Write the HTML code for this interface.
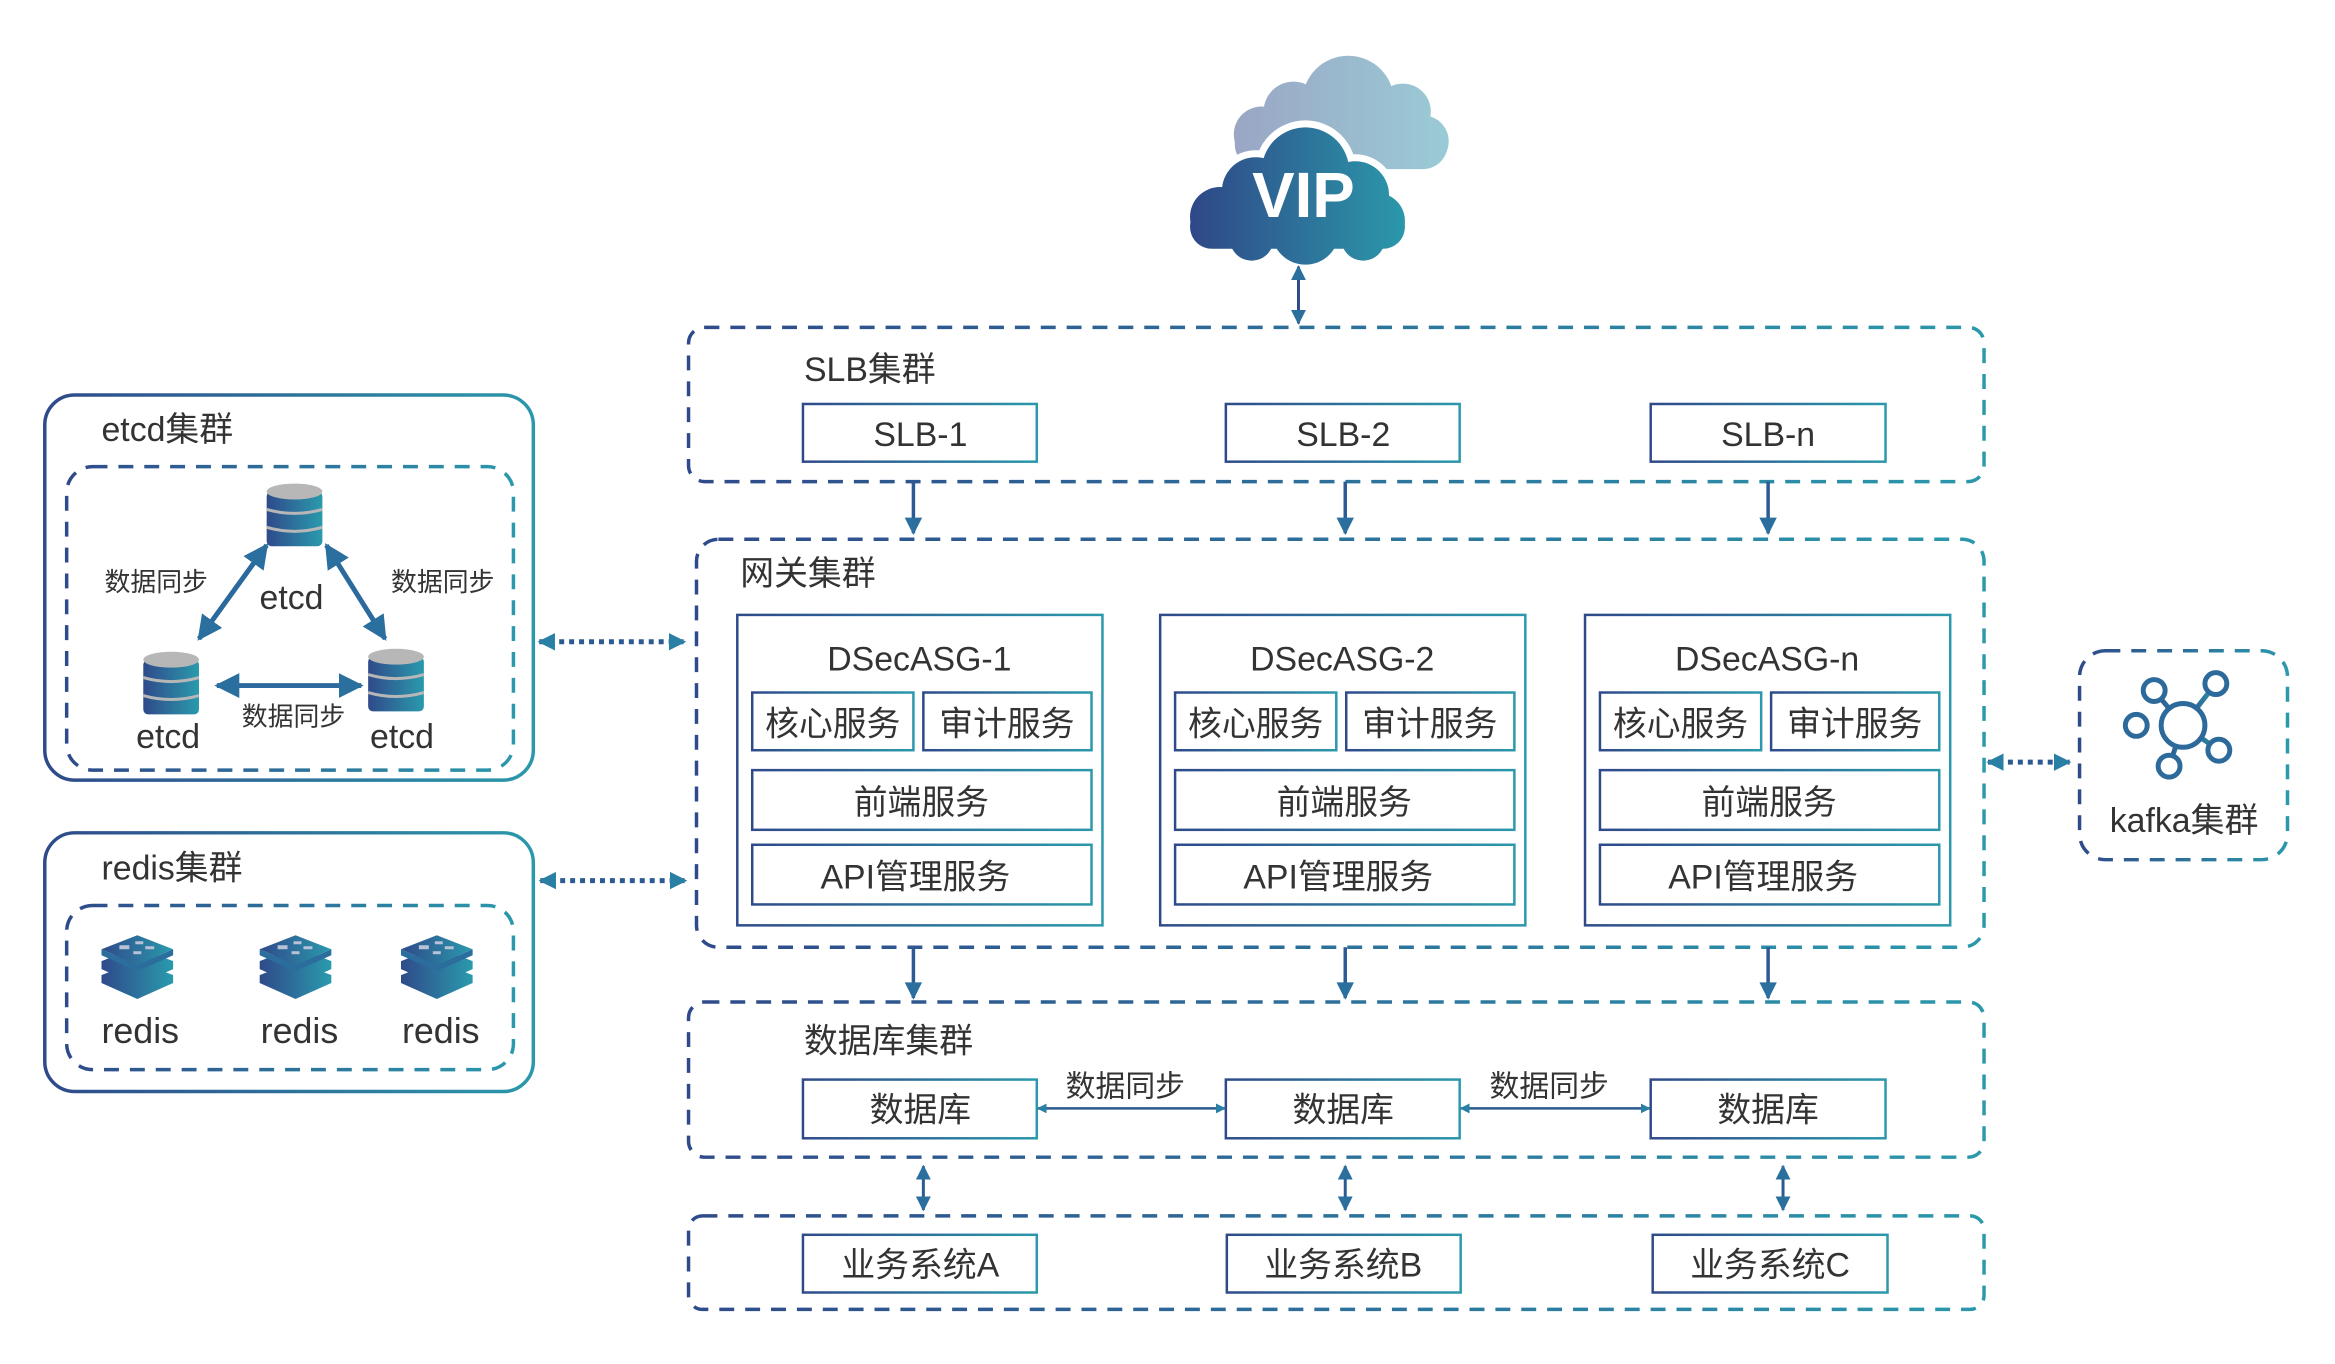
<!DOCTYPE html>
<html><head><meta charset="utf-8"><style>
html,body{margin:0;padding:0;background:#fff;}
svg{display:block;}
text{font-family:"Liberation Sans","Noto Sans CJK SC",sans-serif;fill:#333;}
</style></head><body>
<svg width="2335" height="1364" viewBox="0 0 2335 1364" xmlns="http://www.w3.org/2000/svg">
<defs>
<linearGradient id="g" x1="0" y1="0" x2="1" y2="0"><stop offset="0" stop-color="#2f4a8a"/><stop offset="1" stop-color="#2b98ab"/></linearGradient>
<linearGradient id="gc" gradientUnits="userSpaceOnUse" x1="1195" y1="0" x2="1412" y2="0"><stop offset="0" stop-color="#2f4787"/><stop offset="1" stop-color="#2b98aa"/></linearGradient>
<linearGradient id="gb" gradientUnits="userSpaceOnUse" x1="1240" y1="0" x2="1456" y2="0"><stop offset="0" stop-color="#9aa6c4"/><stop offset="1" stop-color="#9acbd6"/></linearGradient>
<linearGradient id="gdb" x1="0" y1="0" x2="1" y2="0"><stop offset="0" stop-color="#2f4a8a"/><stop offset="1" stop-color="#2a9aad"/></linearGradient>
<marker id="ah" viewBox="0 0 10 10" refX="9" refY="5" markerWidth="5" markerHeight="5" orient="auto-start-reverse" markerUnits="strokeWidth"><path d="M0,0 L10,5 L0,10 z" fill="#2a6f9e"/></marker>
<marker id="ahd" viewBox="0 0 10 10" refX="9" refY="5" markerWidth="6" markerHeight="5" orient="auto-start-reverse" markerUnits="strokeWidth"><path d="M0,0 L10,5 L0,10 z" fill="#2a6f9e"/></marker>
<marker id="ah2" viewBox="0 0 10 10" refX="9" refY="5" markerWidth="4" markerHeight="4" orient="auto-start-reverse" markerUnits="strokeWidth"><path d="M0,0 L10,5 L0,10 z" fill="#2a7fa5"/></marker>
<marker id="ahs" viewBox="0 0 10 10" refX="9" refY="5" markerWidth="3.5" markerHeight="5" orient="auto-start-reverse" markerUnits="strokeWidth"><path d="M0,0 L10,5 L0,10 z" fill="#2a7fa5"/></marker>
<g id="db">
<rect x="0" y="8" width="56" height="55" rx="5" fill="url(#gdb)"/>
<ellipse cx="28" cy="8" rx="28" ry="8" fill="#b7b7b7"/>
<path d="M0,26 Q28,34 56,26 M0,44 Q28,52 56,44" stroke="#b7b7b7" stroke-width="3" fill="none"/>
</g>
<g id="rd">
<path d="M0,38 L36,24 L72,38 L36,54 z M0,38 L0,46 L36,62 L72,46 L72,38 L36,54 z" fill="url(#gdb)"/>
<path d="M0,24 L36,10 L72,24 L36,40 z M0,24 L0,32 L36,48 L72,32 L72,24 L36,40 z" fill="url(#gdb)"/>
<path d="M0,12 L36,-2 L72,12 L36,28 z" fill="url(#gdb)"/>
<path d="M0,12 L0,18 L36,34 L72,18 L72,12 L36,28 z" fill="#2b6e9e"/>
<rect x="18" y="8" width="10" height="4" fill="#b7c2d8"/><rect x="34" y="4" width="8" height="3" fill="#b7c2d8"/><rect x="44" y="9" width="9" height="3" fill="#b7c2d8"/><rect x="32" y="14" width="8" height="3" fill="#b7c2d8"/>
</g>
</defs>
<g transform="scale(0.995)">
<g fill="url(#gb)">
<circle cx="1355" cy="102" r="46"/><circle cx="1300" cy="112" r="30"/><circle cx="1268" cy="135" r="28"/><circle cx="1410" cy="112" r="28"/><circle cx="1430" cy="142" r="26"/>
<rect x="1241" y="120" width="214" height="50" rx="25"/>
</g>
<g fill="#fff" stroke="#fff" stroke-width="14">
<circle cx="1312" cy="172" r="44"/><circle cx="1262" cy="192" r="34"/><circle cx="1226" cy="218" r="30"/><circle cx="1362" cy="196" r="34"/><circle cx="1384" cy="222" r="28"/><rect x="1196" y="205" width="216" height="45" rx="22"/><circle cx="1312" cy="232" r="34"/><circle cx="1258" cy="240" r="22"/><circle cx="1370" cy="240" r="22"/>
</g>
<g fill="url(#gc)">
<circle cx="1312" cy="172" r="44"/><circle cx="1262" cy="192" r="34"/><circle cx="1226" cy="218" r="30"/><circle cx="1362" cy="196" r="34"/><circle cx="1384" cy="222" r="28"/><rect x="1196" y="205" width="216" height="45" rx="22"/><circle cx="1312" cy="232" r="34"/><circle cx="1258" cy="240" r="22"/><circle cx="1370" cy="240" r="22"/>
</g>
<text x="1310" y="218" text-anchor="middle" font-size="64" font-weight="bold" style="fill:#fff">VIP</text>

<line x1="1305" y1="268" x2="1305" y2="325" stroke="#2f4a8a" stroke-width="3" marker-start="url(#ah)" marker-end="url(#ah)"/>

<g fill="none" stroke="url(#g)" stroke-width="3.5" stroke-dasharray="15 11">
<rect x="692" y="329" width="1302" height="155" rx="16"/>
<rect x="700" y="542" width="1294" height="410" rx="22"/>
<rect x="692" y="1007" width="1302" height="156" rx="16"/>
<rect x="692" y="1222" width="1302" height="94" rx="14"/>
<rect x="67" y="469" width="449" height="305" rx="26"/>
<rect x="67" y="910" width="449" height="165" rx="26"/>
<rect x="2090" y="654" width="209" height="210" rx="26"/>
</g>
<g fill="none" stroke="url(#g)" stroke-width="3.5">
<rect x="45" y="397" width="491" height="387" rx="30"/>
<rect x="45" y="837" width="491" height="260" rx="30"/>
</g>

<g font-size="34">
<text x="808" y="383">SLB集群</text>
<text x="744" y="588">网关集群</text>
<text x="808" y="1058">数据库集群</text>
<text x="102" y="443">etcd集群</text>
<text x="102" y="884">redis集群</text>
</g>

<g fill="#fff" stroke="url(#g)" stroke-width="2.5">
<rect x="807" y="406" width="235" height="58"/><rect x="1232" y="406" width="235" height="58"/><rect x="1659" y="406" width="236" height="58"/>
<rect x="807" y="1085" width="235" height="59"/><rect x="1232" y="1085" width="235" height="59"/><rect x="1659" y="1085" width="236" height="59"/>
<rect x="807" y="1241" width="235" height="58"/><rect x="1233" y="1241" width="235" height="58"/><rect x="1661" y="1241" width="236" height="58"/>
</g>
<g font-size="34" text-anchor="middle">
<text x="925" y="448">SLB-1</text><text x="1350" y="448">SLB-2</text><text x="1777" y="448">SLB-n</text>
<text x="925" y="1127">数据库</text><text x="1350" y="1127">数据库</text><text x="1777" y="1127">数据库</text>
<text x="925" y="1283">业务系统A</text><text x="1350" y="1283">业务系统B</text><text x="1779" y="1283">业务系统C</text>
</g>

<g>
<g fill="#fff" stroke="url(#g)" stroke-width="2.5">
<rect x="741" y="618" width="367" height="312"/>
<rect x="756" y="696" width="162" height="58"/><rect x="928" y="696" width="169" height="58"/>
<rect x="756" y="774" width="341" height="60"/><rect x="756" y="849" width="341" height="60"/>
</g>
<g font-size="34" text-anchor="middle">
<text x="924" y="674">DSecASG-1</text>
<text x="837" y="739">核心服务</text><text x="1012" y="739">审计服务</text>
<text x="926" y="818">前端服务</text><text x="920" y="893">API管理服务</text>
</g>
</g>
<g transform="translate(425,0)">
<g fill="#fff" stroke="url(#g)" stroke-width="2.5">
<rect x="741" y="618" width="367" height="312"/>
<rect x="756" y="696" width="162" height="58"/><rect x="928" y="696" width="169" height="58"/>
<rect x="756" y="774" width="341" height="60"/><rect x="756" y="849" width="341" height="60"/>
</g>
<g font-size="34" text-anchor="middle">
<text x="924" y="674">DSecASG-2</text>
<text x="837" y="739">核心服务</text><text x="1012" y="739">审计服务</text>
<text x="926" y="818">前端服务</text><text x="920" y="893">API管理服务</text>
</g>
</g>
<g transform="translate(852,0)">
<g fill="#fff" stroke="url(#g)" stroke-width="2.5">
<rect x="741" y="618" width="367" height="312"/>
<rect x="756" y="696" width="162" height="58"/><rect x="928" y="696" width="169" height="58"/>
<rect x="756" y="774" width="341" height="60"/><rect x="756" y="849" width="341" height="60"/>
</g>
<g font-size="34" text-anchor="middle">
<text x="924" y="674">DSecASG-n</text>
<text x="837" y="739">核心服务</text><text x="1012" y="739">审计服务</text>
<text x="926" y="818">前端服务</text><text x="920" y="893">API管理服务</text>
</g>
</g>

<g stroke="#2c5a92" stroke-width="3.5" marker-end="url(#ahd)">
<line x1="918" y1="484" x2="918" y2="536"/><line x1="1352" y1="484" x2="1352" y2="536"/><line x1="1777" y1="484" x2="1777" y2="536"/>
<line x1="918" y1="952" x2="918" y2="1003"/><line x1="1352" y1="952" x2="1352" y2="1003"/><line x1="1777" y1="952" x2="1777" y2="1003"/>
</g>
<g stroke="#2c5a92" stroke-width="3" marker-start="url(#ah)" marker-end="url(#ah)">
<line x1="928" y1="1172" x2="928" y2="1216"/><line x1="1352" y1="1172" x2="1352" y2="1216"/><line x1="1792" y1="1172" x2="1792" y2="1216"/>
</g>
<g stroke="#2c5a92" stroke-width="2.5" marker-start="url(#ah2)" marker-end="url(#ah2)">
<line x1="1043" y1="1114" x2="1231" y2="1114"/><line x1="1468" y1="1114" x2="1658" y2="1114"/>
</g>
<g font-size="30" text-anchor="middle">
<text x="1131" y="1102">数据同步</text><text x="1557" y="1102">数据同步</text>
</g>

<g stroke="#2c5a92" stroke-width="5" stroke-dasharray="5 5" marker-start="url(#ahs)" marker-end="url(#ahs)">
<line x1="542" y1="645" x2="688" y2="645"/>
<line x1="543" y1="885" x2="689" y2="885"/>
<line x1="1998" y1="766" x2="2080" y2="766"/>
</g>

<use href="#db" x="268" y="486"/>
<use href="#db" x="144" y="655"/>
<use href="#db" x="370" y="652"/>
<g stroke="#2c6a9e" stroke-width="5" marker-start="url(#ah)" marker-end="url(#ah)">
<line x1="268" y1="548" x2="200" y2="642"/>
<line x1="328" y1="548" x2="387" y2="642"/>
<line x1="218" y1="689" x2="363" y2="689"/>
</g>
<g font-size="34" text-anchor="middle">
<text x="293" y="612">etcd</text><text x="169" y="752">etcd</text><text x="404" y="752">etcd</text>
</g>
<g font-size="26" text-anchor="middle">
<text x="157" y="594">数据同步</text><text x="445" y="594">数据同步</text><text x="295" y="729">数据同步</text>
</g>

<use href="#rd" x="102" y="942"/>
<use href="#rd" x="261" y="942"/>
<use href="#rd" x="403" y="942"/>
<g font-size="36" text-anchor="middle">
<text x="141" y="1048">redis</text><text x="301" y="1048">redis</text><text x="443" y="1048">redis</text>
</g>

<g transform="translate(12,2)">
<g fill="none" stroke="url(#g)" stroke-width="5">
<line x1="2182" y1="727" x2="2153" y2="692"/><line x1="2182" y1="727" x2="2215" y2="685"/><line x1="2182" y1="727" x2="2135" y2="727"/><line x1="2182" y1="727" x2="2218" y2="752"/><line x1="2182" y1="727" x2="2168" y2="768"/>
</g>
<g fill="#fff" stroke="#2d6a9c" stroke-width="5">
<circle cx="2182" cy="727" r="22"/>
<circle cx="2153" cy="692" r="11"/><circle cx="2215" cy="685" r="11"/><circle cx="2135" cy="727" r="11"/><circle cx="2218" cy="752" r="11"/><circle cx="2168" cy="768" r="11"/>
</g>
</g>
<text x="2195" y="836" font-size="34" text-anchor="middle">kafka集群</text>
</g>
</svg>
</body></html>
